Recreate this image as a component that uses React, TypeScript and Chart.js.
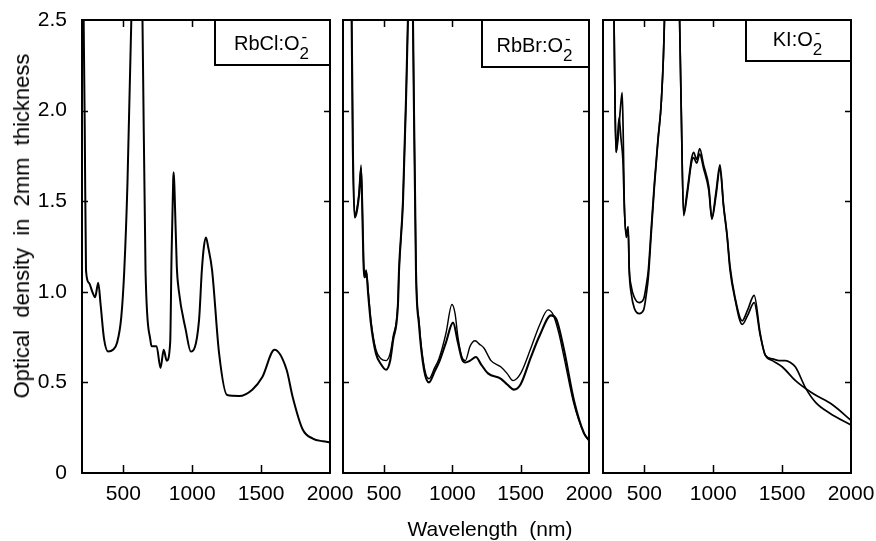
import React, { useEffect, useRef } from 'react';
import { Chart, registerables } from 'chart.js';

Chart.register(...registerables);

const FONT = '"Liberation Sans", Arial, Helvetica, sans-serif';
const W = 876;
const H = 541;

// ---- axis ticks / titles ----
const xTickValues = [500, 1000, 1500, 2000];
const yTickValues = [0, 0.5, 1.0, 1.5, 2.0, 2.5];
const xTitle = 'Wavelength  (nm)';
const yTitle = 'Optical  density  in  2mm  thickness';

// ---- RbCl:O2- ----
const rbclWl = [200, 212, 220, 229, 250, 275, 295, 318, 335, 360, 390, 425, 455, 485, 507, 530, 558, 575, 620, 639, 661, 697, 705, 741, 770, 793, 815, 840, 850, 862, 866, 872, 888, 902, 953, 990, 1049, 1070, 1085, 1100, 1115, 1144, 1195, 1253, 1341, 1436, 1509, 1597, 1685, 1729, 1802, 1875, 1950, 2000];
const rbclOd = [3.5, 2.5, 1.9, 1.12, 1.05, 1.0, 0.97, 1.05, 0.93, 0.74, 0.67, 0.68, 0.72, 0.86, 1.12, 1.6, 2.5, 3.2, 3.2, 2.5, 1.12, 0.73, 0.70, 0.70, 0.58, 0.68, 0.62, 0.72, 1.2, 1.62, 1.66, 1.55, 1.14, 1.01, 0.79, 0.67, 0.84, 1.12, 1.25, 1.30, 1.25, 1.12, 0.66, 0.43, 0.425, 0.46, 0.53, 0.68, 0.57, 0.42, 0.24, 0.19, 0.175, 0.17];

// ---- RbBr:O2- (two spectra) ----
const rbbrWlA = [200, 262, 272, 285, 300, 318, 332, 340, 350, 360, 370, 385, 405, 441, 478, 515, 545, 566, 602, 610, 639, 661, 675, 690, 700, 712, 734, 756, 793, 829, 870, 902, 953, 997, 1020, 1041, 1070, 1095, 1130, 1166, 1200, 1231, 1283, 1356, 1400, 1444, 1500, 1575, 1640, 1700, 1740, 1780, 1817, 1890, 1963, 2000];
const rbbrOdA = [3.5, 2.6, 1.8, 1.42, 1.45, 1.55, 1.70, 1.52, 1.18, 1.10, 1.12, 1.0, 0.84, 0.68, 0.63, 0.62, 0.66, 0.75, 0.94, 1.12, 1.5, 2.06, 2.5, 3.2, 3.2, 2.5, 1.12, 0.84, 0.59, 0.52, 0.58, 0.63, 0.77, 0.93, 0.88, 0.75, 0.64, 0.62, 0.70, 0.73, 0.71, 0.69, 0.62, 0.585, 0.55, 0.51, 0.55, 0.69, 0.82, 0.90, 0.87, 0.77, 0.64, 0.38, 0.22, 0.18];
const rbbrWlB = [200, 262, 272, 285, 300, 318, 332, 340, 350, 360, 370, 385, 405, 441, 478, 515, 545, 566, 602, 610, 639, 661, 675, 690, 700, 712, 734, 756, 793, 829, 870, 902, 953, 1005, 1041, 1070, 1095, 1130, 1173, 1210, 1261, 1356, 1400, 1451, 1500, 1575, 1640, 1722, 1760, 1817, 1890, 1963, 2000];
const rbbrOdB = [3.5, 2.6, 1.8, 1.41, 1.44, 1.54, 1.68, 1.50, 1.16, 1.08, 1.11, 0.98, 0.82, 0.66, 0.60, 0.57, 0.62, 0.73, 0.93, 1.12, 1.5, 2.06, 2.5, 3.2, 3.2, 2.5, 1.12, 0.82, 0.57, 0.50, 0.56, 0.61, 0.72, 0.83, 0.72, 0.63, 0.61, 0.62, 0.64, 0.60, 0.55, 0.52, 0.49, 0.46, 0.49, 0.64, 0.76, 0.87, 0.85, 0.68, 0.40, 0.22, 0.18];

// ---- KI:O2- (two spectra) ----
const kiWlA = [200, 270, 280, 288, 295, 310, 325, 339, 346, 354, 368, 383, 390, 405, 427, 463, 495, 515, 529, 550, 573, 600, 624, 646, 660, 740, 756, 768, 785, 810, 844, 858, 880, 902, 930, 968, 990, 1020, 1049, 1075, 1100, 1122, 1158, 1210, 1250, 1297, 1341, 1378, 1430, 1480, 1524, 1560, 1597, 1670, 1743, 1846, 2000];
const kiOdA = [3.5, 3.0, 2.5, 2.0, 1.77, 1.85, 2.0, 2.10, 1.9, 1.51, 1.32, 1.36, 1.14, 1.03, 0.97, 0.94, 0.96, 1.04, 1.12, 1.35, 1.60, 1.85, 2.06, 2.5, 3.2, 3.2, 2.5, 2.0, 1.43, 1.55, 1.74, 1.77, 1.73, 1.79, 1.70, 1.58, 1.41, 1.55, 1.70, 1.48, 1.32, 1.14, 0.97, 0.84, 0.90, 0.98, 0.77, 0.65, 0.63, 0.62, 0.62, 0.61, 0.585, 0.47, 0.39, 0.33, 0.265];
const kiWlB = [200, 270, 280, 288, 295, 305, 317, 330, 346, 354, 368, 383, 390, 405, 427, 463, 495, 515, 529, 550, 573, 600, 624, 646, 660, 740, 756, 768, 785, 810, 844, 858, 880, 902, 930, 968, 990, 1020, 1049, 1075, 1100, 1122, 1158, 1210, 1250, 1297, 1341, 1378, 1430, 1502, 1597, 1721, 1868, 2000];
const kiOdB = [3.5, 3.0, 2.5, 2.0, 1.77, 1.85, 1.96, 1.85, 1.7, 1.48, 1.30, 1.34, 1.12, 0.99, 0.91, 0.88, 0.90, 0.99, 1.08, 1.32, 1.58, 1.84, 2.06, 2.5, 3.2, 3.2, 2.5, 2.0, 1.42, 1.53, 1.72, 1.74, 1.71, 1.76, 1.68, 1.56, 1.40, 1.53, 1.68, 1.47, 1.31, 1.12, 0.96, 0.82, 0.87, 0.94, 0.76, 0.65, 0.62, 0.585, 0.51, 0.44, 0.375, 0.29];

type Series = { wl: number[]; od: number[]; width: number };
type Panel = {
  label: string;
  series: Series[];
  left: number;
  right: number;
  showY: boolean;
  boxW: number;
  boxH: number;
};

const panels: Panel[] = [
  { label: 'RbCl:O', series: [{ wl: rbclWl, od: rbclOd, width: 2 }], left: 82, right: 330, showY: true, boxW: 115, boxH: 45 },
  { label: 'RbBr:O', series: [{ wl: rbbrWlA, od: rbbrOdA, width: 1.4 }, { wl: rbbrWlB, od: rbbrOdB, width: 2.1 }], left: 343, right: 589, showY: false, boxW: 107, boxH: 47 },
  { label: 'KI:O', series: [{ wl: kiWlA, od: kiOdA, width: 1.7 }, { wl: kiWlB, od: kiOdB, width: 1.7 }], left: 603, right: 851, showY: false, boxW: 105, boxH: 41 },
];

const TOP = 20;
const BOTTOM = 473;
const Y_AXIS_W = 70;

const framePlugin = {
  id: 'frame',
  afterDraw(chart: any, _args: any, opts: any) {
    const { ctx, chartArea: a, scales } = chart;
    ctx.save();
    ctx.strokeStyle = '#000';
    ctx.lineCap = 'butt';
    // inward tick marks
    ctx.lineWidth = 1.5;
    ctx.beginPath();
    for (const v of xTickValues) {
      if (v >= 2000) continue;
      const x = Math.round(scales.x.getPixelForValue(v)) + 0.5;
      ctx.moveTo(x, a.bottom);
      ctx.lineTo(x, a.bottom - 8);
      ctx.moveTo(x, a.top);
      ctx.lineTo(x, a.top + 7);
    }
    for (const v of yTickValues) {
      if (v <= 0 || v >= 2.5) continue;
      const y = Math.round(scales.y.getPixelForValue(v)) + 0.5;
      ctx.moveTo(a.left, y);
      ctx.lineTo(a.left + 6, y);
      ctx.moveTo(a.right, y);
      ctx.lineTo(a.right - 6, y);
    }
    ctx.stroke();
    // frame
    ctx.lineWidth = 2;
    ctx.strokeRect(a.left, a.top, a.right - a.left, a.bottom - a.top);
    // label box
    const bx = a.right - opts.boxW;
    const by = a.top;
    ctx.fillStyle = '#fff';
    ctx.fillRect(bx, by, opts.boxW, opts.boxH);
    ctx.lineWidth = 2;
    ctx.strokeRect(bx, by, opts.boxW, opts.boxH);
    ctx.fillStyle = '#000';
    ctx.font = `20px ${FONT}`;
    const mainW = ctx.measureText(opts.label).width;
    ctx.font = `17px ${FONT}`;
    const subW = ctx.measureText('2').width;
    const total = mainW + subW + 2;
    const tx = bx + (opts.boxW - total) / 2;
    const base = by + opts.boxH - 15;
    ctx.textBaseline = 'alphabetic';
    ctx.textAlign = 'left';
    ctx.font = `20px ${FONT}`;
    ctx.fillText(opts.label, tx, base);
    ctx.font = `17px ${FONT}`;
    ctx.fillText('2', tx + mainW, base + 9);
    ctx.fillText('-', tx + mainW + 2, base - 8);
    ctx.restore();
  },
};

function PanelChart({ panel }: { panel: Panel }) {
  const ref = useRef<HTMLCanvasElement | null>(null);
  useEffect(() => {
    if (!ref.current) return;
    const tickFont = { family: FONT, size: 21 };
    const yScale: any = {
      display: panel.showY,
      min: 0,
      max: 2.5,
      afterBuildTicks: (s: any) => {
        s.ticks = yTickValues.map((v) => ({ value: v }));
      },
      grid: { display: false, drawTicks: false },
      border: { display: false },
      ticks: {
        color: '#000',
        font: tickFont,
        padding: 15,
        callback: (v: any) => (Number(v) === 0 ? '0' : Number(v).toFixed(1)),
      },
    };
    if (panel.showY) {
      yScale.afterFit = (s: any) => {
        s.width = Y_AXIS_W;
        s.paddingTop = 0;
        s.paddingBottom = 0;
      };
    }
    const chart = new Chart(ref.current, {
      type: 'line',
      data: {
        datasets: panel.series.map((s) => ({
          data: s.wl.map((x, i) => ({ x, y: s.od[i] })),
          borderColor: '#000',
          borderWidth: s.width,
          pointRadius: 0,
          fill: false,
          cubicInterpolationMode: 'monotone' as const,
        })),
      },
      options: {
        responsive: false,
        animation: false,
        devicePixelRatio: 1,
        events: [],
        layout: {
          padding: {
            left: panel.showY ? panel.left - Y_AXIS_W : panel.left,
            right: W - panel.right,
            top: TOP,
            bottom: 0,
          },
        },
        plugins: {
          legend: { display: false },
          tooltip: { enabled: false },
          frame: { label: panel.label, boxW: panel.boxW, boxH: panel.boxH },
        } as any,
        scales: {
          x: {
            type: 'linear',
            min: 200,
            max: 2000,
            afterBuildTicks: (s: any) => {
              s.ticks = xTickValues.map((v) => ({ value: v }));
            },
            afterFit: (s: any) => {
              s.height = H - BOTTOM;
              s.paddingLeft = 0;
              s.paddingRight = 0;
            },
            grid: { display: false, drawTicks: false },
            border: { display: false },
            ticks: {
              color: '#000',
              font: tickFont,
              padding: 9,
              maxRotation: 0,
              autoSkip: false,
              callback: (v: any) => String(v),
            },
          },
          y: yScale,
        },
      },
      plugins: [framePlugin],
    });
    return () => chart.destroy();
  }, [panel]);
  return (
    <canvas
      ref={ref}
      width={W}
      height={H}
      style={{ position: 'absolute', left: 0, top: 0, width: W, height: H }}
    />
  );
}

export default function App() {
  return (
    <div style={{ position: 'absolute', left: 0, top: 0, width: W, height: H, background: '#fff', overflow: 'hidden' }}>
      {panels.map((p) => (
        <PanelChart key={p.label} panel={p} />
      ))}
      <div
        style={{
          position: 'absolute',
          left: 22,
          top: 226,
          transform: 'translate(-50%, -50%) rotate(-90deg)',
          whiteSpace: 'pre',
          fontFamily: FONT,
          fontSize: 22,
          lineHeight: '22px',
          color: '#000',
        }}
      >
        {yTitle}
      </div>
      <div
        style={{
          position: 'absolute',
          left: 490,
          top: 518,
          transform: 'translateX(-50%)',
          whiteSpace: 'pre',
          fontFamily: FONT,
          fontSize: 21,
          lineHeight: '21px',
          color: '#000',
        }}
      >
        {xTitle}
      </div>
    </div>
  );
}
